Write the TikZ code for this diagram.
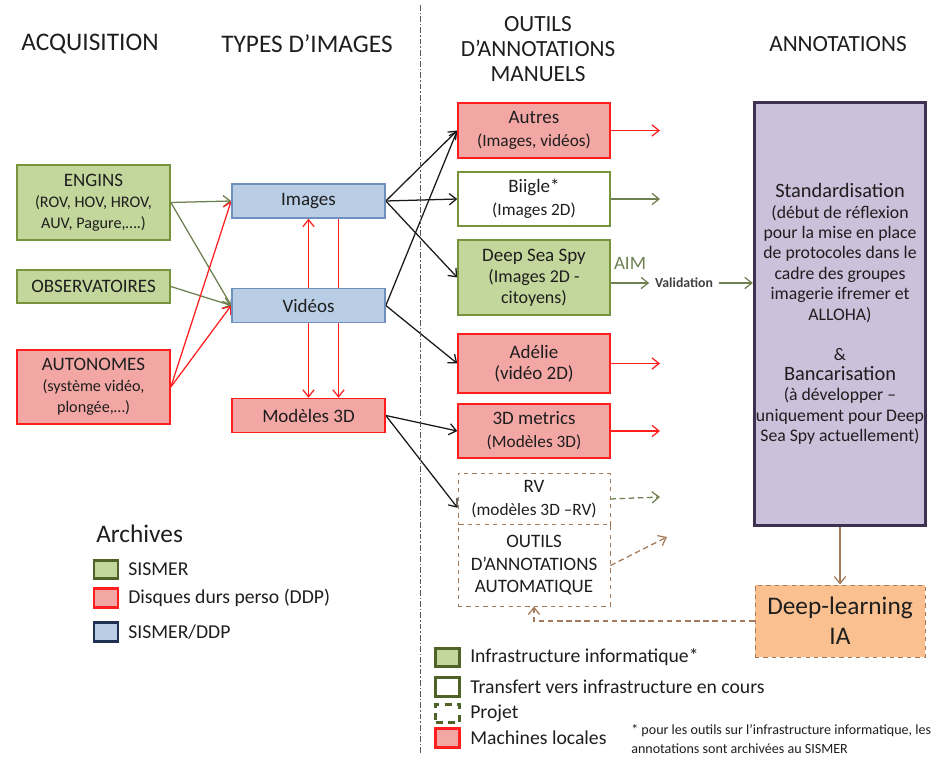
\documentclass[tikz,border=0pt]{standalone}
\usepackage{fontspec}
\setmainfont{Carlito}
\usepackage{tikz}
\usetikzlibrary{arrows.meta, backgrounds}
\usepackage{xcolor}

\definecolor{vertfond}{HTML}{C3D69B}
\definecolor{vertbord}{HTML}{77933C}
\definecolor{vertfonce}{HTML}{4F6228}
\definecolor{rougefond}{HTML}{F2A7A4}
\definecolor{rougebord}{HTML}{FF1F1F}
\definecolor{bleufond}{HTML}{B9CDE5}
\definecolor{bleubord}{HTML}{6F8FBF}
\definecolor{bleufonce}{HTML}{1F3050}
\definecolor{violetfond}{HTML}{CCC0DA}
\definecolor{violetbord}{HTML}{3F3151}
\definecolor{orangefond}{HTML}{FAC090}
\definecolor{brun}{HTML}{A57A5A}
\definecolor{vertfleche}{HTML}{6E7F50}
\definecolor{texte}{HTML}{1E1E1E}

\newcommand{\ftitre}{\fontsize{13.5}{15}\selectfont}
\newcommand{\fgrand}{\fontsize{14.5}{16}\selectfont}

\begin{document}
\begin{tikzpicture}[x=0.025cm, y=-0.025cm,
    boite/.style={draw, line width=1pt, align=center, inner sep=1pt, text=texte},
    vert/.style={boite, fill=vertfond, draw=vertbord},
    rouge/.style={boite, fill=rougefond, draw=rougebord},
    bleu/.style={boite, fill=bleufond, draw=bleubord},
    blanc/.style={boite, fill=white, draw=vertbord},
    projet/.style={boite, fill=white, draw=brun, dashed, line width=0.6pt},
    colgauche/.style={minimum width=3.83cm, font=\fontsize{11.5}{15}\selectfont},
    colmilieu/.style={minimum width=3.83cm, minimum height=0.85cm},
    coloutils/.style={minimum width=3.8cm, font=\fontsize{12.3}{16.5}\selectfont},
    fl/.style={-{Straight Barb[length=5pt,width=8pt]}, line width=0.9pt},
    entete/.style={font=\fontsize{18}{18}\selectfont, align=center, text=texte},
    legende/.style={anchor=west, inner sep=0pt, font=\fontsize{14}{15}\selectfont, text=texte},
    carre/.style={draw, minimum width=0.6cm, minimum height=0.47cm, line width=2pt, inner sep=0pt}]
    \useasboundingbox (0,0) rectangle (948,761);

    % en-tetes
    \node[entete] (acq) at (90,44) {ACQUISITION};
    \node[entete] (types) at (307,44) {TYPES D’IMAGES};
    \node[entete, font=\fontsize{16.5}{18}\selectfont] (outils) at (538,49) {OUTILS\\D’ANNOTATIONS\\MANUELS};
    \node[entete, font=\fontsize{16.5}{18}\selectfont] (annot) at (838,44) {ANNOTATIONS};
    \coordinate (sep-haut) at (420,5);
    \coordinate (sep-bas) at (420,755);
    \draw[gray!70!black, line width=0.5pt, dash pattern=on 4pt off 1.5pt on 1pt off 1.5pt] (sep-haut) -- (sep-bas);

    % acquisition
    \node[vert, colgauche, minimum height=1.88cm] (engins) at (93.5,202.5) {{\ftitre ENGINS}\\(ROV, HOV, HROV,\\AUV, Pagure,….)};
    \node[vert, colgauche, minimum height=0.83cm] (observ) at (93.5,286.5) {{\ftitre OBSERVATOIRES}};
    \node[rouge, colgauche, minimum height=1.85cm] (autonomes) at (93.5,387) {{\ftitre AUTONOMES}\\(système vidéo,\\plongée,…)};

    % types d'images
    \node[bleu, colmilieu] (images) at (308.5,201) {{\ftitre Images}};
    \node[bleu, colmilieu] (videos) at (308.5,305.5) {{\ftitre Vidéos}};
    \node[rouge, colmilieu] (modeles) at (308.5,415.5) {{\ftitre Modèles 3D}};

    % outils manuels
    \node[rouge, coloutils, minimum height=1.38cm] (autres) at (534,130.5) {{\ftitre Autres}\\(Images, vidéos)};
    \node[blanc, coloutils, minimum height=1.35cm] (biigle) at (534,199) {{\ftitre Biigle*}\\(Images 2D)};
    \node[vert, coloutils, minimum height=1.88cm, font=\fontsize{12.8}{15}\selectfont] (dss) at (534,277.5) {{\ftitre Deep Sea Spy}\\(Images 2D -\\citoyens)};
    \node[rouge, coloutils, minimum height=1.48cm, font=\ftitre] (adelie) at (534,363.5) {Adélie\\(vidéo 2D)};
    \node[rouge, coloutils, minimum height=1.35cm] (metrics) at (534,431) {{\ftitre 3D metrics}\\(Modèles 3D)};
    \node[projet, coloutils, minimum height=1.3cm] (rv) at (534,499) {{\ftitre RV}\\(modèles 3D –RV)};
    \node[projet, coloutils, minimum height=2.03cm, font=\fontsize{13.5}{16}\selectfont] (auto) at (534,565.5) {OUTILS\\D’ANNOTATIONS\\AUTOMATIQUE};

    % annotations
    \node[boite, fill=violetfond, draw=violetbord, line width=2.2pt, minimum width=4.28cm, minimum height=10.55cm, font=\fontsize{12.6}{14.5}\selectfont] (annot-boite) at (840,314)
      {{\fgrand Standardisation}\\(début de réflexion\\pour la mise en place\\de protocoles dans le\\cadre des groupes\\imagerie ifremer et\\ALLOHA)\\[14pt]\&\\{\fgrand Bancarisation}\\(à développer –\\uniquement pour Deep\\Sea Spy actuellement)};
    \node[boite, fill=orangefond, draw=brun, dashed, line width=0.6pt, minimum width=4.25cm, minimum height=1.8cm, font=\fontsize{18}{21.5}\selectfont] (dl) at (840,621) {Deep-learning\\IA};
    \node[inner sep=4pt, font=\bfseries\fontsize{9.8}{10}\selectfont, text=black!75] (valid) at (684,283) {Validation};
    \node[inner sep=0pt, font=\fontsize{13.5}{15}\selectfont, text=vertfleche] (aim) at (630,263) {AIM};

    % fleches
    \begin{scope}[on background layer]
      \draw[fl, vertfleche] (engins.east) -- (images.west);
      \draw[fl, vertfleche] (engins.east) -- (videos.west);
      \draw[fl, vertfleche] (observ.east) -- (videos.west);
      \draw[fl, rougebord] (autonomes.east) -- (images.west);
      \draw[fl, rougebord] (autonomes.east) -- (videos.west);
      \draw[fl, rougebord] (videos.north) -- (images.south);
      \draw[fl, rougebord] (videos.south) -- (modeles.north);
      \draw[fl, rougebord] ([xshift=0.75cm]images.south) -- ([xshift=0.75cm]modeles.north);
      \draw[fl, black!90] (images.east) -- (autres.west);
      \draw[fl, black!90] (images.east) -- (biigle.west);
      \draw[fl, black!90] (images.east) -- (dss.west);
      \draw[fl, black!90] (videos.east) -- (autres.west);
      \draw[fl, black!90] (videos.east) -- (adelie.west);
      \draw[fl, black!90] (modeles.east) -- (metrics.west);
      \draw[fl, black!90] (modeles.east) -- ([yshift=-0.22cm]rv.west);
    \end{scope}
    \coordinate (autres-fin) at (660,130.5);
    \coordinate (biigle-fin) at (660,199);
    \coordinate (adelie-fin) at (660,363.5);
    \coordinate (metrics-fin) at (660,431);
    \coordinate (rv-fin) at (660,497);
    \coordinate (auto-fin) at (667,537);
    \draw[fl, rougebord] (autres.east) -- (autres-fin);
    \draw[fl, vertfleche] (biigle.east) -- (biigle-fin);
    \draw[fl, vertfleche] (dss.east |- valid) -- (valid.west);
    \draw[fl, vertfleche] (valid.east) -- (annot-boite.west |- valid);
    \draw[fl, rougebord] (adelie.east) -- (adelie-fin);
    \draw[fl, rougebord] (metrics.east) -- (metrics-fin);
    \draw[fl, vertfleche, dash pattern=on 4pt off 2.5pt] (rv.east) -- (rv-fin);
    \draw[fl, brun, dash pattern=on 4pt off 2.5pt] (auto.east) -- (auto-fin);
    \draw[fl, brun] (annot-boite.south) -- (dl.north);
    \draw[fl, brun, dash pattern=on 4pt off 2.5pt] (dl.west) -| (auto.south);

    % legende archives
    \node[legende, font=\fontsize{18}{20}\selectfont] (archives) at (96,534) {Archives};
    \node[carre, fill=vertfond, draw=vertfonce] (c-sismer) at (106,569.5) {};
    \node[carre, fill=rougefond, draw=rougebord] (c-ddp) at (106,598) {};
    \node[carre, fill=bleufond, draw=bleufonce] (c-mixte) at (106,632) {};
    \node[legende] (l-sismer) at (128,569.5) {SISMER};
    \node[legende] (l-ddp) at (128,598) {Disques durs perso (DDP)};
    \node[legende] (l-mixte) at (128,632) {SISMER/DDP};

    % legende outils
    \node[carre, fill=vertfond, draw=vertfonce] (c-infra) at (447.5,657.5) {};
    \node[carre, fill=white, draw=vertfonce] (c-transfert) at (447.5,687) {};
    \node[carre, fill=white, draw=vertfonce, dash pattern=on 5pt off 4pt] (c-projet) at (447.5,713.5) {};
    \node[carre, fill=rougefond, draw=rougebord] (c-locales) at (447.5,738) {};
    \node[legende] (l-infra) at (470,657.5) {Infrastructure informatique*};
    \node[legende] (l-transfert) at (470,687) {Transfert vers infrastructure en cours};
    \node[legende] (l-projet) at (470,713.5) {Projet};
    \node[legende] (l-locales) at (470,738) {Machines locales};
    \node[legende, align=left, font=\fontsize{10}{13.5}\selectfont] (note) at (631,739) {* pour les outils sur l’infrastructure informatique, les\\annotations sont archivées au SISMER};
\end{tikzpicture}
\end{document}
